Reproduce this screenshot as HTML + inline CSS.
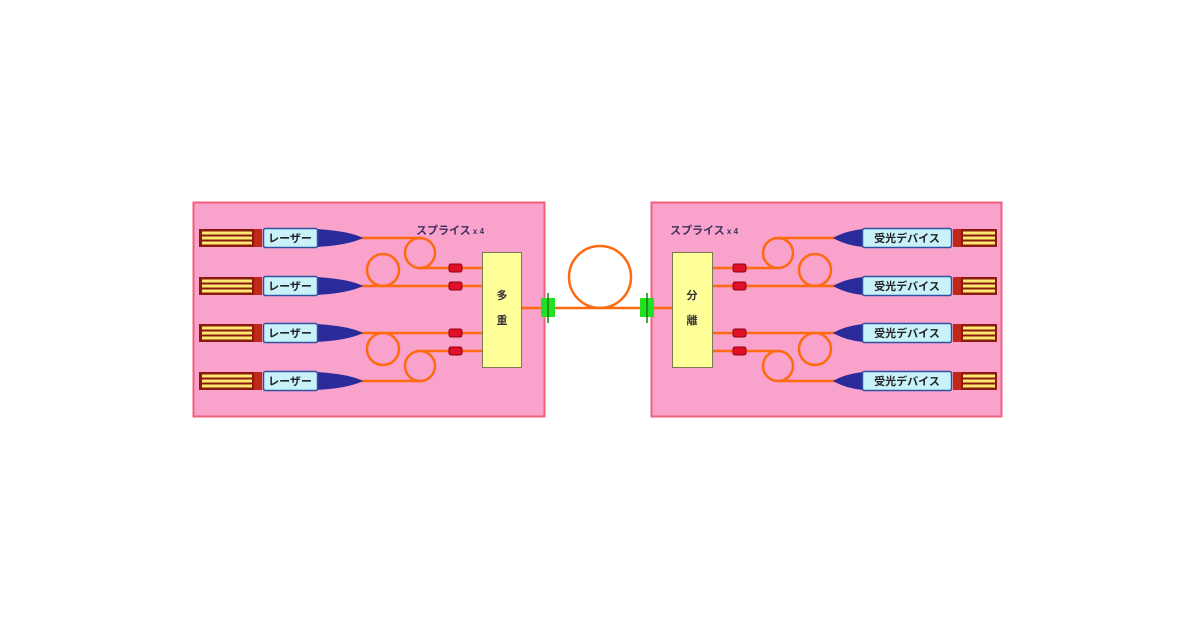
<!DOCTYPE html>
<html><head><meta charset="utf-8"><style>html,body{margin:0;padding:0;background:#fff;width:1200px;height:630px;overflow:hidden}</style></head>
<body>
<svg width="1200" height="630" viewBox="0 0 1200 630" xmlns="http://www.w3.org/2000/svg" font-family="'Liberation Sans','Noto Sans CJK JP',sans-serif">
<defs>
<g id="pinL">
  <rect x="0" y="-9" width="63" height="18" fill="#8a1a10"/>
  <rect x="55" y="-9" width="8" height="18" fill="#c02818"/>
  <rect x="3" y="-6.5" width="50" height="3" fill="#ffe870"/>
  <rect x="3" y="-1.5" width="50" height="3" fill="#ffe870"/>
  <rect x="3" y="3.5" width="50" height="3" fill="#ffe870"/>
</g>
<g id="pinR">
  <rect x="0" y="-9" width="44" height="18" fill="#8a1a10"/>
  <rect x="0" y="-9" width="8" height="18" fill="#c02818"/>
  <rect x="10" y="-6.5" width="32" height="3" fill="#ffe870"/>
  <rect x="10" y="-1.5" width="32" height="3" fill="#ffe870"/>
  <rect x="10" y="3.5" width="32" height="3" fill="#ffe870"/>
</g>
</defs>
<!-- boxes -->
<rect x="193.5" y="202.5" width="351" height="214" fill="#f8a2cc" stroke="#f0607a" stroke-width="2"/>
<rect x="651.5" y="202.5" width="350" height="214" fill="#f8a2cc" stroke="#f0607a" stroke-width="2"/>

<g stroke="#ff6a10" stroke-width="2.5" fill="none">
  <!-- left fibers -->
  <line x1="360" y1="238" x2="420" y2="238"/>
  <circle cx="420" cy="253" r="15"/>
  <line x1="420" y1="268" x2="482" y2="268"/>
  <line x1="360" y1="286" x2="482" y2="286"/>
  <circle cx="383" cy="270" r="16"/>
  <line x1="360" y1="333" x2="482" y2="333"/>
  <circle cx="383" cy="349" r="16"/>
  <line x1="360" y1="381" x2="420" y2="381"/>
  <circle cx="420" cy="366" r="15"/>
  <line x1="420" y1="351" x2="482" y2="351"/>
  <!-- center -->
  <line x1="522" y1="308" x2="672" y2="308"/>
  <circle cx="600" cy="277" r="31"/>
  <!-- right fibers -->
  <line x1="840" y1="238" x2="778" y2="238"/>
  <circle cx="778" cy="253" r="15"/>
  <line x1="778" y1="268" x2="713" y2="268"/>
  <line x1="840" y1="286" x2="713" y2="286"/>
  <circle cx="815" cy="270" r="16"/>
  <line x1="840" y1="333" x2="713" y2="333"/>
  <circle cx="815" cy="349" r="16"/>
  <line x1="840" y1="381" x2="778" y2="381"/>
  <circle cx="778" cy="366" r="15"/>
  <line x1="778" y1="351" x2="713" y2="351"/>
</g>

<!-- splices -->
<g fill="#e01028" stroke="#900010" stroke-width="1">
  <rect x="449" y="264" width="13" height="8" rx="2"/>
  <rect x="449" y="282" width="13" height="8" rx="2"/>
  <rect x="449" y="329" width="13" height="8" rx="2"/>
  <rect x="449" y="347" width="13" height="8" rx="2"/>
  <rect x="733" y="264" width="13" height="8" rx="2"/>
  <rect x="733" y="282" width="13" height="8" rx="2"/>
  <rect x="733" y="329" width="13" height="8" rx="2"/>
  <rect x="733" y="347" width="13" height="8" rx="2"/>
</g>

<!-- mux / demux -->
<rect x="482.5" y="252.5" width="39" height="115" fill="#ffff9a" stroke="#7a7a50" stroke-width="1"/>
<text x="502" y="299" font-size="11" font-weight="bold" text-anchor="middle" fill="#333">多</text>
<text x="502" y="324" font-size="11" font-weight="bold" text-anchor="middle" fill="#333">重</text>
<rect x="672.5" y="252.5" width="40" height="115" fill="#ffff9a" stroke="#7a7a50" stroke-width="1"/>
<text x="692" y="299" font-size="11" font-weight="bold" text-anchor="middle" fill="#333">分</text>
<text x="692" y="324" font-size="11" font-weight="bold" text-anchor="middle" fill="#333">離</text>

<!-- connectors -->
<g>
  <rect x="541" y="298" width="14" height="19" fill="#22e022"/>
  <line x1="548" y1="293" x2="548" y2="323" stroke="#108010" stroke-width="1.5"/>
  <rect x="640" y="298" width="14" height="19" fill="#22e022"/>
  <line x1="647" y1="293" x2="647" y2="323" stroke="#108010" stroke-width="1.5"/>
</g>

<text x="416" y="234" font-size="11" font-weight="bold" fill="#403060">スプライス<tspan font-size="8"> x 4</tspan></text>
<text x="670" y="234" font-size="11" font-weight="bold" fill="#403060">スプライス<tspan font-size="8"> x 4</tspan></text>

<!-- left lasers -->
<g id="laserRows">
  <g transform="translate(199,238)">
    <use href="#pinL"/>
    <path d="M118,-9 Q150,-7 164,0 Q150,7 118,9 Z" fill="#2a2a9a"/>
    <rect x="64.5" y="-9.5" width="54" height="19" rx="2" fill="#c8f2fa" stroke="#3050a0" stroke-width="1.5"/>
    <text x="91" y="4" font-size="11" font-weight="bold" text-anchor="middle" fill="#222">レーザー</text>
  </g>
  <g transform="translate(199,286)">
    <use href="#pinL"/>
    <path d="M118,-9 Q150,-7 164,0 Q150,7 118,9 Z" fill="#2a2a9a"/>
    <rect x="64.5" y="-9.5" width="54" height="19" rx="2" fill="#c8f2fa" stroke="#3050a0" stroke-width="1.5"/>
    <text x="91" y="4" font-size="11" font-weight="bold" text-anchor="middle" fill="#222">レーザー</text>
  </g>
  <g transform="translate(199,333)">
    <use href="#pinL"/>
    <path d="M118,-9 Q150,-7 164,0 Q150,7 118,9 Z" fill="#2a2a9a"/>
    <rect x="64.5" y="-9.5" width="54" height="19" rx="2" fill="#c8f2fa" stroke="#3050a0" stroke-width="1.5"/>
    <text x="91" y="4" font-size="11" font-weight="bold" text-anchor="middle" fill="#222">レーザー</text>
  </g>
  <g transform="translate(199,381)">
    <use href="#pinL"/>
    <path d="M118,-9 Q150,-7 164,0 Q150,7 118,9 Z" fill="#2a2a9a"/>
    <rect x="64.5" y="-9.5" width="54" height="19" rx="2" fill="#c8f2fa" stroke="#3050a0" stroke-width="1.5"/>
    <text x="91" y="4" font-size="11" font-weight="bold" text-anchor="middle" fill="#222">レーザー</text>
  </g>
</g>

<!-- right receivers -->
<g>
  <g transform="translate(0,238)">
    <path d="M863,-9 Q845,-7 833,0 Q845,7 863,9 Z" fill="#2a2a9a"/>
    <rect x="862.5" y="-9.5" width="89" height="19" rx="2" fill="#c8f2fa" stroke="#3050a0" stroke-width="1.5"/>
    <text x="907" y="4" font-size="11" font-weight="bold" text-anchor="middle" fill="#222">受光デバイス</text>
    <use href="#pinR" x="953"/>
  </g>
  <g transform="translate(0,286)">
    <path d="M863,-9 Q845,-7 833,0 Q845,7 863,9 Z" fill="#2a2a9a"/>
    <rect x="862.5" y="-9.5" width="89" height="19" rx="2" fill="#c8f2fa" stroke="#3050a0" stroke-width="1.5"/>
    <text x="907" y="4" font-size="11" font-weight="bold" text-anchor="middle" fill="#222">受光デバイス</text>
    <use href="#pinR" x="953"/>
  </g>
  <g transform="translate(0,333)">
    <path d="M863,-9 Q845,-7 833,0 Q845,7 863,9 Z" fill="#2a2a9a"/>
    <rect x="862.5" y="-9.5" width="89" height="19" rx="2" fill="#c8f2fa" stroke="#3050a0" stroke-width="1.5"/>
    <text x="907" y="4" font-size="11" font-weight="bold" text-anchor="middle" fill="#222">受光デバイス</text>
    <use href="#pinR" x="953"/>
  </g>
  <g transform="translate(0,381)">
    <path d="M863,-9 Q845,-7 833,0 Q845,7 863,9 Z" fill="#2a2a9a"/>
    <rect x="862.5" y="-9.5" width="89" height="19" rx="2" fill="#c8f2fa" stroke="#3050a0" stroke-width="1.5"/>
    <text x="907" y="4" font-size="11" font-weight="bold" text-anchor="middle" fill="#222">受光デバイス</text>
    <use href="#pinR" x="953"/>
  </g>
</g>
</svg>
</body></html>
